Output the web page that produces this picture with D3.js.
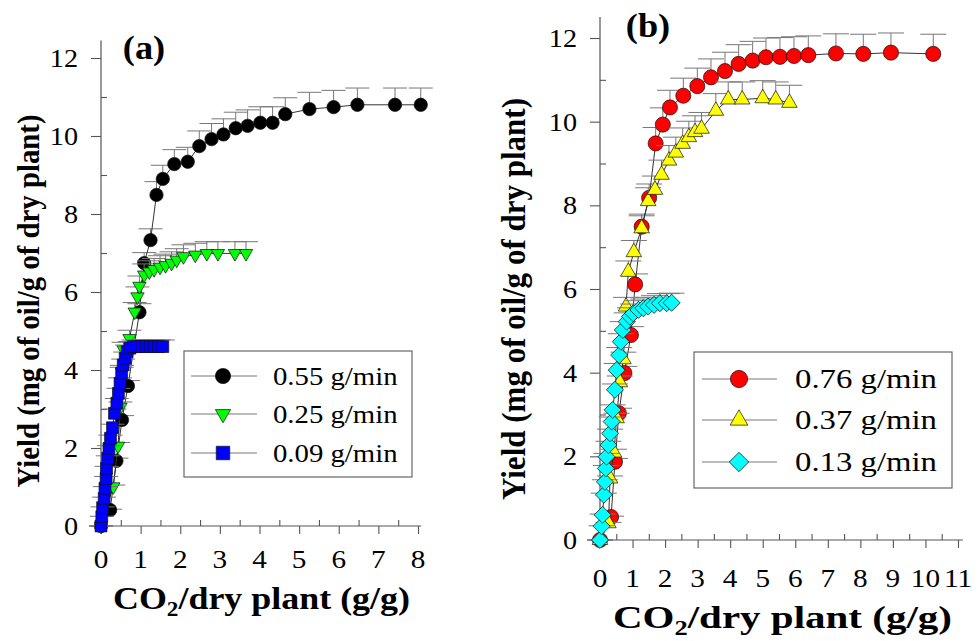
<!DOCTYPE html>
<html>
<head>
<meta charset="utf-8">
<script src="https://cdn.jsdelivr.net/npm/d3@7"></script>
<style>
  body { margin: 0; background: #fff; }
</style>
</head>
<body>
<div id="chart"></div>
<script>
// ---- panel (a) data ----
var aLabels = ["0.55 g/min", "0.25 g/min", "0.09 g/min"];
var a055x = [0, 0.23, 0.39, 0.53, 0.68, 0.97, 1.09, 1.25, 1.40, 1.56, 1.85, 2.19, 2.48, 2.79, 3.09, 3.40, 3.70, 4.02, 4.33, 4.65, 5.26, 5.87, 6.47, 7.42, 8.07];
var a055y = [0, 0.41, 1.67, 2.72, 3.59, 5.48, 6.74, 7.33, 8.49, 8.90, 9.28, 9.34, 9.74, 9.92, 10.04, 10.20, 10.26, 10.34, 10.34, 10.56, 10.69, 10.74, 10.80, 10.80, 10.80];
var a055e = [0, 0.02, 0.07, 0.11, 0.14, 0.22, 0.27, 0.29, 0.34, 0.35, 0.37, 0.37, 0.39, 0.40, 0.40, 0.41, 0.41, 0.41, 0.41, 0.42, 0.43, 0.43, 0.43, 0.43, 0.43];
var a025x = [0, 0.31, 0.43, 0.49, 0.53, 0.57, 0.72, 0.85, 0.92, 0.97, 1.09, 1.22, 1.34, 1.49, 1.63, 1.78, 1.91, 2.08, 2.38, 2.67, 2.95, 3.38, 3.66];
var a025y = [0, 1.01, 2.05, 3.05, 3.95, 4.52, 4.81, 5.49, 5.88, 6.15, 6.44, 6.52, 6.58, 6.64, 6.68, 6.74, 6.82, 6.91, 6.95, 6.99, 6.99, 6.99, 6.99];
var a025e = [0, 0.04, 0.09, 0.13, 0.17, 0.19, 0.21, 0.24, 0.25, 0.26, 0.28, 0.28, 0.28, 0.29, 0.29, 0.29, 0.29, 0.30, 0.30, 0.30, 0.30, 0.30, 0.30];
var a009x = [0, 0.02, 0.04, 0.08, 0.10, 0.13, 0.14, 0.17, 0.20, 0.24, 0.29, 0.34, 0.40, 0.44, 0.48, 0.52, 0.56, 0.61, 0.66, 0.73, 0.82, 0.92, 1.03, 1.14, 1.24, 1.34, 1.45, 1.56];
var a009y = [0, 0.24, 0.47, 0.71, 0.97, 1.22, 1.48, 1.74, 1.99, 2.25, 2.52, 2.89, 3.15, 3.40, 3.66, 3.92, 4.13, 4.30, 4.47, 4.56, 4.60, 4.60, 4.60, 4.60, 4.60, 4.60, 4.60, 4.60];
var a009e = [0, 0.01, 0.02, 0.03, 0.04, 0.05, 0.05, 0.06, 0.07, 0.08, 0.09, 0.11, 0.12, 0.13, 0.14, 0.15, 0.15, 0.16, 0.17, 0.17, 0.17, 0.17, 0.17, 0.17, 0.17, 0.17, 0.17, 0.17];

// ---- panel (b) data ----
var bLabels = ["0.76 g/min", "0.37 g/min", "0.13 g/min"];
var b076x = [0, 0.34, 0.46, 0.58, 0.75, 0.95, 1.08, 1.28, 1.51, 1.71, 1.93, 2.15, 2.56, 2.99, 3.41, 3.84, 4.26, 4.69, 5.10, 5.53, 5.96, 6.40, 7.25, 8.09, 8.94, 10.24];
var b076y = [0, 0.55, 1.87, 3.03, 3.99, 4.90, 6.11, 7.49, 8.18, 9.48, 9.93, 10.34, 10.62, 10.85, 11.06, 11.21, 11.38, 11.46, 11.54, 11.55, 11.57, 11.59, 11.63, 11.62, 11.65, 11.62];
var b076e = [0, 0.02, 0.08, 0.12, 0.16, 0.20, 0.25, 0.30, 0.33, 0.38, 0.40, 0.41, 0.42, 0.43, 0.44, 0.45, 0.46, 0.46, 0.46, 0.46, 0.46, 0.46, 0.47, 0.47, 0.47, 0.47];
var b037x = [0, 0.26, 0.31, 0.43, 0.51, 0.61, 0.72, 0.80, 0.87, 1.04, 1.28, 1.48, 1.69, 1.89, 2.12, 2.33, 2.54, 2.73, 2.92, 3.12, 3.56, 3.94, 4.37, 5.00, 5.40, 5.82];
var b037y = [0, 0.40, 1.47, 2.09, 2.91, 3.77, 4.32, 5.58, 6.41, 6.88, 7.45, 8.10, 8.37, 8.73, 9.07, 9.26, 9.47, 9.63, 9.75, 9.83, 10.26, 10.53, 10.53, 10.56, 10.53, 10.45];
var b037e = [0, 0.02, 0.06, 0.08, 0.12, 0.15, 0.17, 0.22, 0.26, 0.28, 0.30, 0.32, 0.33, 0.35, 0.36, 0.37, 0.38, 0.38, 0.39, 0.39, 0.41, 0.42, 0.42, 0.42, 0.42, 0.42];
var b013x = [0, 0.05, 0.08, 0.12, 0.15, 0.18, 0.20, 0.26, 0.31, 0.36, 0.39, 0.46, 0.51, 0.59, 0.64, 0.70, 0.82, 0.92, 1.02, 1.18, 1.33, 1.48, 1.66, 1.84, 2.05, 2.20];
var b013y = [0, 0.33, 0.60, 1.08, 1.39, 1.71, 1.99, 2.27, 2.55, 2.83, 3.11, 3.59, 4.06, 4.42, 4.74, 5.02, 5.22, 5.34, 5.42, 5.50, 5.54, 5.58, 5.62, 5.66, 5.66, 5.67];
var b013e = [0, 0.01, 0.02, 0.04, 0.05, 0.07, 0.08, 0.09, 0.10, 0.11, 0.12, 0.14, 0.16, 0.18, 0.19, 0.20, 0.21, 0.21, 0.22, 0.22, 0.22, 0.22, 0.22, 0.23, 0.23, 0.23];

var aXTicks = [0, 1, 2, 3, 4, 5, 6, 7, 8];
var bXTicks = [0, 1, 2, 3, 4, 5, 6, 7, 8, 9, 10, 11];
var yTicks = [0, 2, 4, 6, 8, 10, 12];
var yTitle = "Yield (mg of oil/g of dry plant)";

var FONT = "'Liberation Serif', 'Times New Roman', Times, 'Nimbus Roman', 'FreeSerif', serif";
var W = 979, H = 641;
var svg = d3.select("#chart").append("svg")
    .attr("width", W).attr("height", H)
    .attr("viewBox", [0, 0, W, H])
    .attr("font-family", FONT);

function zip(xs, ys, es) {
  return xs.map(function (x, i) { return { x: x, y: ys[i], e: es[i] }; });
}

// text stretched a bit horizontally like the original scan
function stext(g, x, y, str, size, sx, anchor, weight) {
  return g.append("text")
    .attr("transform", "translate(" + x + "," + y + ") scale(" + sx + ",1)")
    .attr("text-anchor", anchor)
    .attr("font-family", FONT)
    .attr("font-size", size)
    .attr("font-weight", weight || "normal")
    .text(str);
}

function drawPanel(p) {
  var g = svg.append("g");
  var x = d3.scaleLinear().domain(p.xDomain).range(p.xRange);
  var y = d3.scaleLinear().domain([0, 12]).range(p.yRange);

  // axis lines
  g.append("line")
    .attr("x1", x(0)).attr("x2", x(0))
    .attr("y1", y(0)).attr("y2", y(p.yTop))
    .attr("stroke", "#555").attr("stroke-width", 1.2);
  g.append("line")
    .attr("x1", x(0) - 4).attr("x2", x(p.xEnd))
    .attr("y1", y(0)).attr("y2", y(0))
    .attr("stroke", "#555").attr("stroke-width", 1.2);

  // major ticks outside, minor ticks inside
  var minorY = d3.range(1, 12, 2);
  var minorX = p.xTicks.slice(0, -1).map(function (d) { return d + 0.5; });
  var yMaj = d3.axisLeft(y).tickValues(yTicks).tickSize(10).tickFormat("");
  var yMin = d3.axisLeft(y).tickValues(minorY).tickSize(-6).tickFormat("");
  var xMaj = d3.axisBottom(x).tickValues(p.xTicks).tickSize(8).tickFormat("");
  var xMin = d3.axisBottom(x).tickValues(minorX).tickSize(-6).tickFormat("");
  [[yMaj, "translate(" + x(0) + ",0)"], [yMin, "translate(" + x(0) + ",0)"],
   [xMaj, "translate(0," + y(0) + ")"], [xMin, "translate(0," + y(0) + ")"]].forEach(function (a) {
    var ax = g.append("g").attr("transform", a[1]).call(a[0]);
    ax.select(".domain").remove();
    ax.selectAll("line").attr("stroke", "#555").attr("stroke-width", 1.1);
  });

  // tick labels
  yTicks.forEach(function (t) {
    stext(g, x(0) - 23, y(t) + 9, t, 25, 1.13, "end");
  });
  p.xTicks.forEach(function (t) {
    stext(g, x(t), p.xLabelY, t, 25, 1.17, "middle");
  });

  // titles
  var tx = g.append("text")
    .attr("x", p.xTitleX).attr("y", p.xTitleY)
    .attr("font-family", FONT)
    .attr("font-size", p.xTitleSize).attr("font-weight", "bold")
    .attr("textLength", p.xTitleLen).attr("lengthAdjust", "spacingAndGlyphs");
  tx.append("tspan").text("CO");
  tx.append("tspan").attr("font-size", 20).attr("dy", 7).text("2");
  tx.append("tspan").attr("dy", -7).text("/dry plant (g/g)");

  g.append("text")
    .attr("transform", "translate(" + p.yTitleX + "," + p.yTitleY + ") scale(" + p.yTitleSx + ",1) rotate(-90)")
    .attr("text-anchor", "middle")
    .attr("font-family", FONT)
    .attr("font-size", p.yTitleSize).attr("font-weight", "bold")
    .attr("textLength", p.yTitleLen).attr("lengthAdjust", "spacingAndGlyphs")
    .text(yTitle);

  stext(g, p.tagX, p.tagY, p.tag, 33, 1.1, "middle", "bold");

  var line = d3.line().x(function (d) { return x(d.x); }).y(function (d) { return y(d.y); });

  p.series.forEach(function (s) {
    var data = zip(s.xs, s.ys, s.es);
    var sg = g.append("g");
    // upper error bars with caps
    sg.selectAll("path.err").data(data).join("path")
      .attr("class", "err")
      .attr("fill", "none").attr("stroke", "#777").attr("stroke-width", 1)
      .attr("d", function (d) {
        var x0 = x(d.x), y0 = y(d.y), y1 = y(d.y + d.e);
        return "M" + x0 + "," + y0 + "V" + y1 + "M" + (x0 - p.cap) + "," + y1 + "H" + (x0 + p.cap);
      });
    sg.append("path").datum(data)
      .attr("fill", "none").attr("stroke", "#333").attr("stroke-width", 1)
      .attr("d", line);
    sg.selectAll("path.mk").data(data).join("path")
      .attr("class", "mk")
      .attr("d", d3.symbol().type(s.type).size(s.size))
      .attr("transform", function (d) { return "translate(" + x(d.x) + "," + y(d.y) + ") rotate(" + s.rot + ")"; })
      .attr("fill", s.color).attr("stroke", "#111").attr("stroke-width", 0.7);
  });

  // legend
  var L = p.legend;
  g.append("rect")
    .attr("x", L.x).attr("y", L.y).attr("width", L.w).attr("height", L.h)
    .attr("fill", "#fff").attr("stroke", "#666").attr("stroke-width", 1.2);
  p.series.forEach(function (s, i) {
    var ry = L.rows[i];
    g.append("line")
      .attr("x1", L.lx1).attr("x2", L.lx2).attr("y1", ry).attr("y2", ry)
      .attr("stroke", "#777").attr("stroke-width", 1);
    g.append("path")
      .attr("d", d3.symbol().type(s.type).size(s.size * L.mk))
      .attr("transform", "translate(" + L.mx + "," + ry + ") rotate(" + s.rot + ")")
      .attr("fill", s.color).attr("stroke", "#111").attr("stroke-width", 0.7);
    stext(g, L.tx, ry + 9, s.label, L.font, L.sx, "start");
  });
}

drawPanel({
  xDomain: [0, 8], xRange: [101, 418], yRange: [526, 58],
  yTop: 12.45, xEnd: 8.08, xTicks: aXTicks, xLabelY: 568,
  xTitleX: 113, xTitleY: 609, xTitleLen: 297, xTitleSize: 31,
  yTitleX: 39, yTitleY: 301, yTitleSx: 1.1, yTitleSize: 28.7, yTitleLen: 373,
  tag: "(a)", tagX: 144, tagY: 59, cap: 12,
  series: [
    { label: aLabels[0], xs: a055x, ys: a055y, es: a055e, type: d3.symbolCircle, size: 140, rot: 0, color: "#000" },
    { label: aLabels[1], xs: a025x, ys: a025y, es: a025e, type: d3.symbolTriangle, size: 78, rot: 180, color: "#00ff00" },
    { label: aLabels[2], xs: a009x, ys: a009y, es: a009e, type: d3.symbolSquare, size: 140, rot: 0, color: "#0000ff" }
  ],
  legend: { x: 184, y: 351, w: 228, h: 126, rows: [376, 414, 453], lx1: 191, lx2: 257, mx: 223, tx: 273, font: 25, sx: 1.15, mk: 1.3 }
});

drawPanel({
  xDomain: [0, 11], xRange: [600, 958], yRange: [540, 38],
  yTop: 12.5, xEnd: 11.15, xTicks: bXTicks, xLabelY: 587,
  xTitleX: 613, xTitleY: 628, xTitleLen: 339, xTitleSize: 31,
  yTitleX: 525, yTitleY: 299, yTitleSx: 1.12, yTitleSize: 31, yTitleLen: 402,
  tag: "(b)", tagX: 648, tagY: 37, cap: 13,
  series: [
    { label: bLabels[0], xs: b076x, ys: b076y, es: b076e, type: d3.symbolCircle, size: 180, rot: 0, color: "#ff0000" },
    { label: bLabels[1], xs: b037x, ys: b037y, es: b037e, type: d3.symbolTriangle, size: 105, rot: 0, color: "#ffff00" },
    { label: bLabels[2], xs: b013x, ys: b013y, es: b013e, type: d3.symbolSquare, size: 145, rot: 45, color: "#00ffff" }
  ],
  legend: { x: 694, y: 352, w: 258, h: 136, rows: [379, 420, 462], lx1: 702, lx2: 777, mx: 739, tx: 795, font: 28, sx: 1.17, mk: 1.3 }
});
</script>
</body>
</html>
